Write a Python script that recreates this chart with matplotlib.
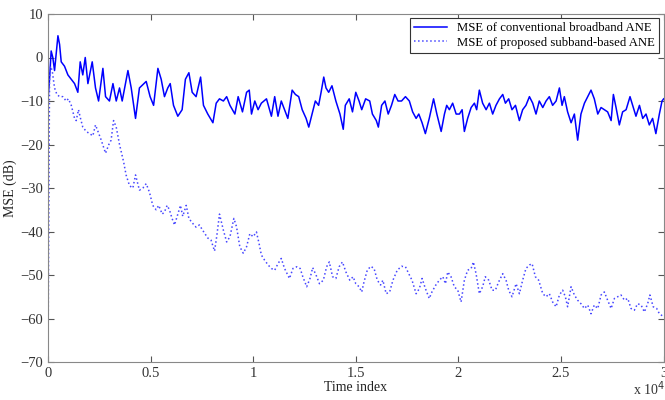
import matplotlib
matplotlib.use("Agg")
import matplotlib.pyplot as plt
from matplotlib.ticker import FuncFormatter

# conventional broadband ANE (solid)
t_conv = [0, 80, 160, 240, 325, 490, 570, 650, 810, 975, 1140, 1300, 1460, 1575,
          1700, 1820, 1950, 2160, 2320, 2470, 2680, 2810, 3000, 3170, 3330, 3490,
          3620, 3900, 4060, 4270, 4460, 4790, 4980, 5150, 5360, 5520, 5680, 5840,
          5960, 6120, 6330, 6540, 6700, 6870, 7030, 7220, 7440, 7580, 7790, 8040,
          8200, 8360, 8550, 8710, 8870, 9110, 9270, 9480, 9680, 9810, 9920, 10080,
          10240, 10400, 10650, 10890, 11050, 11210, 11370, 11530, 11690, 11900,
          12060, 12220, 12390, 12580, 12710, 12870, 13030, 13190, 13310, 13440,
          13550, 13680, 13840, 14030, 14230, 14390, 14490, 14680, 14840, 15000,
          15160, 15290, 15480, 15680, 15810, 16000, 16100, 16260, 16420, 16580,
          16740, 16900, 17060, 17230, 17420, 17610, 17770, 17940, 18070, 18230,
          18390, 18580, 18790, 18950, 19160, 19320, 19430, 19560, 19720, 19890,
          20050, 20180, 20290, 20450, 20620, 20780, 20890, 21020, 21180, 21350,
          21510, 21670, 21830, 22000, 22160, 22290, 22450, 22610, 22780, 22970,
          23130, 23290, 23460, 23620, 23780, 23940, 24110, 24270, 24430, 24590,
          24760, 24920, 25050, 25160, 25320, 25490, 25650, 25810, 25970, 26140,
          26300, 26460, 26620, 26790, 26950, 27110, 27270, 27440, 27550, 27680,
          27840, 28000, 28170, 28360, 28490, 28650, 28820, 28980, 29140, 29300,
          29460, 29620, 29790, 29920, 30000]
mse_conv = [-10, -5, 1.5, 0, -3, 5, 3, -1, -2, -4, -5, -6, -8, -1,
            -4, 0, -6, -1, -7, -10, -2.5, -9, -10, -6, -10, -7,
            -10, -3, -7, -14, -7, -5.5, -9, -11, -2.5, -5, -9, -7,
            -6, -11, -13.5, -12, -5, -3.5, -8, -9, -4.5, -11, -13, -15,
            -10.5, -9.5, -10, -9, -11, -13, -9, -12.5, -8, -7.5, -13, -10,
            -12, -10.5, -9.5, -13.5, -9, -13.5, -10, -12, -14, -7.5,
            -8.5, -9, -12, -14, -16, -13, -10, -11, -8, -4.5,
            -7, -8, -6.5, -10, -13, -16.5, -11, -9.5, -12.5, -8,
            -10, -12, -9.5, -10, -13, -14.5, -16, -11, -10, -13,
            -11, -8.5, -10, -10, -9, -10, -12.5, -14, -13, -15,
            -17.5, -14, -9.5, -13, -17, -13, -11, -12, -10.5, -13,
            -13, -12, -17, -14, -11.5, -10.5, -12, -7.5, -10.5, -12,
            -10.5, -13, -11, -9.5, -8.5, -10.5, -9.5, -12, -11, -14.5,
            -12, -11, -9, -10.5, -13, -10, -11.5, -10, -9, -11,
            -10, -7, -11, -9, -12.5, -15, -13, -19, -13, -10.5,
            -9, -7.5, -9.5, -13, -11.5, -12, -12.5, -14.5, -8.5, -11.5,
            -15.5, -12.5, -12, -9, -11, -13.5, -11, -14, -13, -15.5,
            -14, -17.5, -13, -10, -9.5]

# proposed subband-based ANE (dotted)
t_sub = [0, 80, 130, 210, 325, 440, 570, 730, 890, 1000, 1140, 1300, 1380, 1490,
         1590, 1700, 1870, 2030, 2190, 2320, 2440, 2600, 2810, 2970, 3080, 3200,
         3330, 3490, 3690, 3810, 3980, 4140, 4270, 4460, 4630, 4790, 4950, 5110,
         5270, 5400, 5570, 5680, 5810, 5920, 6050, 6170, 6330, 6460, 6570, 6740,
         6870, 7030, 7220, 7380, 7580, 7790, 7950, 8120, 8230, 8360, 8550, 8710,
         8870, 9060, 9190, 9350, 9520, 9680, 9840, 10000, 10160, 10290, 10400,
         10560, 10730, 10890, 11050, 11210, 11370, 11530, 11770, 11940, 12130,
         12290, 12420, 12610, 12770, 12900, 13100, 13230, 13420, 13580, 13710,
         13870, 14030, 14190, 14350, 14520, 14710, 14870, 15000, 15160, 15290,
         15400, 15560, 15730, 15890, 16050, 16210, 16320, 16480, 16650, 16810,
         17020, 17230, 17420, 17580, 17740, 17940, 18100, 18230, 18390, 18580,
         18710, 18900, 19070, 19240, 19370, 19480, 19640, 19800, 19970, 20130,
         20290, 20450, 20620, 20730, 20860, 21020, 21180, 21310, 21480, 21640,
         21800, 21960, 22160, 22320, 22450, 22610, 22810, 22970, 23130, 23290,
         23460, 23590, 23750, 23910, 24110, 24270, 24430, 24590, 24760, 24920,
         25080, 25210, 25320, 25490, 25650, 25810, 25970, 26140, 26300, 26460,
         26620, 26790, 26950, 27110, 27270, 27440, 27600, 27760, 27920, 28090,
         28250, 28410, 28570, 28730, 28900, 29060, 29220, 29330, 29490, 29660,
         29790, 30000]
mse_sub = [-75, -5, -2, -3, -7, -8.5, -9, -9, -10, -9.5, -11, -14, -14.5, -12,
           -14, -16, -17, -17.5, -18, -15.5, -17, -19, -22, -20, -19, -14.5,
           -16, -20, -24, -27, -29.5, -30, -27, -30.5, -30, -29, -31, -34,
           -35, -34, -36, -35.5, -34, -35, -37, -38.5, -36, -34, -36.5, -34,
           -37, -38, -39, -38.5, -40, -41.5, -42, -44.5, -41, -36, -39.7, -42.4,
           -41.2, -37, -38.9, -43.5, -45, -43.5, -40.5, -41.2, -40.1, -42.8, -45.4,
           -46.6, -47.7, -48.5, -48.9, -47.4, -46.2, -48.5, -50.8, -48.5, -48.1,
           -48.5, -50.4, -52.7, -50.8, -48.3, -50.4, -52, -51.2, -48.1, -47,
           -50.4, -50.8, -48.1, -47, -49.3, -51.2, -50.4, -52, -52.7, -53.9,
           -51.6, -48.9, -48, -48.5, -51.2, -52.3, -51.2, -54.3, -53.9, -51.2,
           -48.9, -48, -48.1, -49.7, -51.2, -54.3, -53.1, -50.8, -53.1, -55.4,
           -53.9, -52.3, -51.2, -50.4, -52, -49.3, -50.4, -52.7, -53.5, -56.2,
           -51.2, -48.9, -48.5, -47, -49.7, -54.3, -52.7, -50.4, -51.2, -53.5,
           -53.5, -51.6, -49.7, -51.2, -53.5, -55, -52, -54.3, -51.2, -48.5,
           -47.7, -47.4, -50.4, -51.2, -54.3, -55, -54.3, -56.2, -57.3, -54.6,
           -53.5, -55, -57.3, -52.7, -54.6, -55.8, -56.6, -57.7, -56.9, -58.9,
           -56.9, -57.7, -54.6, -53.9, -55.8, -57.7, -55.4, -55, -54.6, -55.8,
           -55.4, -57.7, -58.1, -56.6, -56.9, -58.5, -56.6, -54.6, -57.3, -57.7,
           -58.9, -59.6]

plt.rcParams['font.family'] = ['Liberation Serif', 'DejaVu Serif']
plt.rcParams['font.size'] = 10

fig = plt.figure(figsize=(6.65, 4.0), dpi=100)
ax = fig.add_axes([0.072, 0.095, 0.926, 0.87])

ax.plot(t_conv, mse_conv, color='#0000ff', lw=1.1,
        label='MSE of conventional broadband ANE')
ax.plot(t_sub, mse_sub, color='#4646ff', lw=1.1, ls=':',
        label='MSE of proposed subband-based ANE')

ax.set_xlim(0, 30000)
ax.set_ylim(-70, 10)
ax.set_xticks([0, 5000, 10000, 15000, 20000, 25000, 30000])
ax.set_yticks(range(-70, 11, 10))
ax.xaxis.set_major_formatter(FuncFormatter(lambda v, p: '%g' % (v / 1e4)))
ax.tick_params(direction='in', top=True, right=True, length=4,
               color='#555555', labelsize=10.5, labelcolor='#333333')
for s in ax.spines.values():
    s.set_color('#888888')

ax.set_xlabel('Time index', labelpad=1, color='#222222')
ax.set_ylabel('MSE (dB)', labelpad=2, color='#222222')
fig.text(0.952, 0.012, 'x 10$^4$', fontsize=10, color='#333333')

leg = ax.legend(loc='upper right', fancybox=False, framealpha=1,
                edgecolor='#333333', fontsize=9.2, handlelength=2.6,
                borderpad=0.3, labelspacing=0.2, borderaxespad=0.35)
leg.get_frame().set_linewidth(0.8)

fig.savefig('out.png', dpi=100)
